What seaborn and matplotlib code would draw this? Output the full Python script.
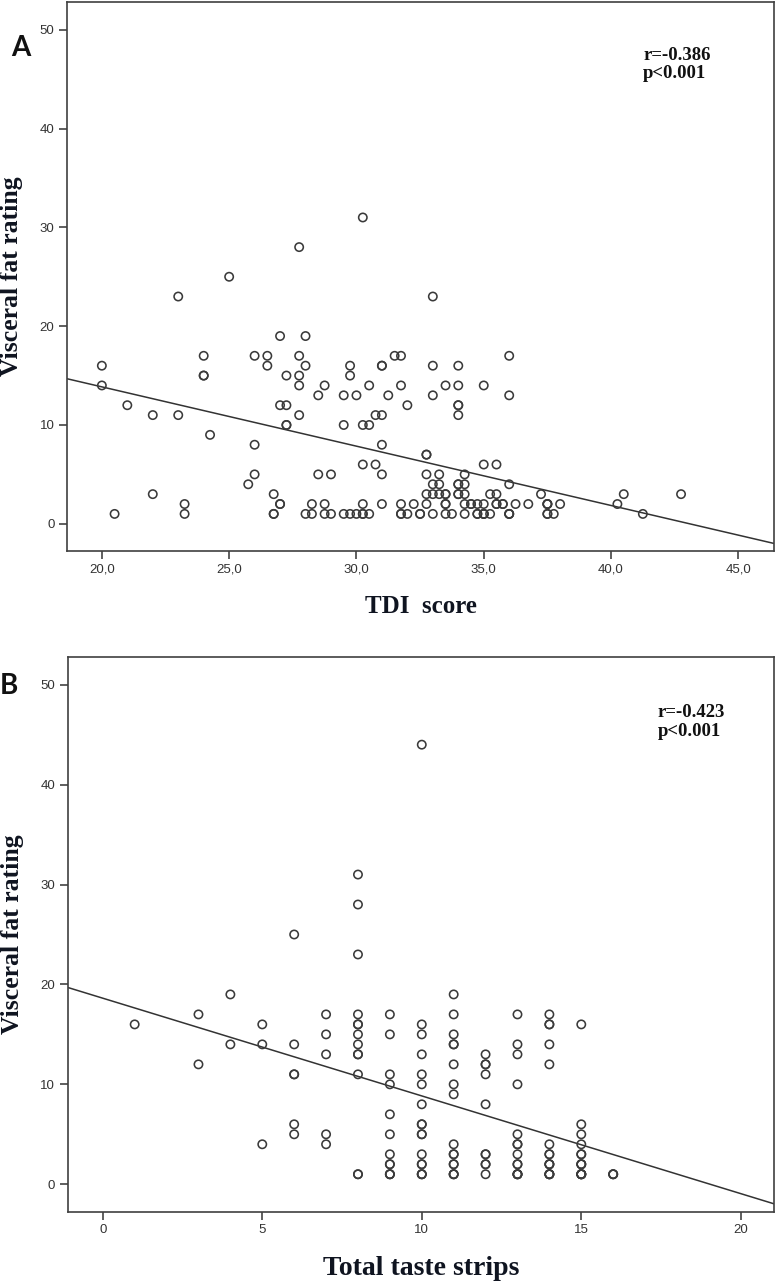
import matplotlib
matplotlib.use("Agg")
import matplotlib.pyplot as plt
import seaborn as sns
from matplotlib.ticker import FuncFormatter

# Panel A: TDI score vs visceral fat rating (one line per rating level)
tdi_score = [
    20.5, 23.25, 26.75, 26.75, 28.0, 28.25, 28.75, 29.0, 29.5, 29.75, 30.0,
    30.25, 30.25, 30.5, 31.75, 31.75, 32.0, 32.5, 32.5, 33.0, 33.5, 33.75,
    34.25, 34.75, 34.75, 35.0, 35.0, 35.0, 35.25, 36.0, 36.0, 36.0, 37.5,
    37.5, 37.75, 41.25,
    23.25, 27.0, 27.0, 28.25, 28.75, 30.25, 31.0, 31.75, 32.25, 32.75, 33.5,
    33.5, 34.25, 34.5, 34.5, 34.75, 35.0, 35.5, 35.5, 35.75, 35.75, 36.25,
    36.75, 37.5, 37.5, 37.5, 38.0, 40.25,
    22.0, 26.75, 32.75, 33.0, 33.25, 33.5, 33.5, 34.0, 34.0, 34.25, 35.25,
    35.5, 37.25, 40.5, 42.75,
    25.75, 33.0, 33.25, 34.0, 34.0, 34.25, 36.0,
    26.0, 28.5, 29.0, 31.0, 32.75, 33.25, 34.25,
    30.25, 30.75, 35.0, 35.5,
    32.75, 32.75,
    26.0, 31.0,
    24.25,
    27.25, 27.25, 29.5, 30.25, 30.5,
    22.0, 23.0, 27.75, 30.75, 31.0, 34.0,
    21.0, 27.0, 27.25, 32.0, 34.0, 34.0,
    28.5, 29.5, 30.0, 31.25, 33.0, 36.0,
    20.0, 27.75, 28.75, 30.5, 31.75, 33.5, 34.0, 35.0,
    24.0, 24.0, 27.25, 27.75, 29.75,
    20.0, 26.5, 28.0, 29.75, 31.0, 31.0, 33.0, 34.0,
    24.0, 26.0, 26.5, 27.75, 31.5, 31.75, 36.0,
    27.0, 28.0,
    23.0, 33.0,
    25.0,
    27.75,
    30.25,
]
visceral_a = [
    1, 1, 1, 1, 1, 1, 1, 1, 1, 1, 1,
    1, 1, 1, 1, 1, 1, 1, 1, 1, 1, 1,
    1, 1, 1, 1, 1, 1, 1, 1, 1, 1, 1,
    1, 1, 1,
    2, 2, 2, 2, 2, 2, 2, 2, 2, 2, 2,
    2, 2, 2, 2, 2, 2, 2, 2, 2, 2, 2,
    2, 2, 2, 2, 2, 2,
    3, 3, 3, 3, 3, 3, 3, 3, 3, 3, 3,
    3, 3, 3, 3,
    4, 4, 4, 4, 4, 4, 4,
    5, 5, 5, 5, 5, 5, 5,
    6, 6, 6, 6,
    7, 7,
    8, 8,
    9,
    10, 10, 10, 10, 10,
    11, 11, 11, 11, 11, 11,
    12, 12, 12, 12, 12, 12,
    13, 13, 13, 13, 13, 13,
    14, 14, 14, 14, 14, 14, 14, 14,
    15, 15, 15, 15, 15,
    16, 16, 16, 16, 16, 16, 16, 16,
    17, 17, 17, 17, 17, 17, 17,
    19, 19,
    23, 23,
    25,
    28,
    31,
]

# Panel B: total taste strips vs visceral fat rating (one line per strip score)
taste_strips = [
    1,
    3, 3,
    4, 4,
    5, 5, 5,
    6, 6, 6, 6, 6, 6,
    7, 7, 7, 7, 7,
    8, 8, 8, 8, 8, 8, 8, 8, 8, 8, 8, 8, 8,
    9, 9, 9, 9, 9, 9, 9, 9, 9, 9, 9, 9,
    10, 10, 10, 10, 10, 10, 10, 10, 10, 10, 10, 10, 10, 10, 10, 10, 10,
    11, 11, 11, 11, 11, 11, 11, 11, 11, 11, 11, 11, 11, 11, 11, 11,
    12, 12, 12, 12, 12, 12, 12, 12, 12, 12,
    13, 13, 13, 13, 13, 13, 13, 13, 13, 13, 13, 13, 13, 13,
    14, 14, 14, 14, 14, 14, 14, 14, 14, 14, 14, 14, 14, 14, 14,
    15, 15, 15, 15, 15, 15, 15, 15, 15, 15, 15, 15, 15, 15,
    16, 16, 16,
]
visceral_b = [
    16,
    17, 12,
    19, 14,
    16, 14, 4,
    25, 14, 11, 11, 6, 5,
    17, 15, 13, 5, 4,
    31, 28, 23, 17, 16, 16, 15, 14, 13, 13, 11, 1, 1,
    17, 15, 11, 10, 7, 5, 3, 2, 2, 1, 1, 1,
    44, 16, 15, 13, 11, 10, 8, 6, 6, 5, 5, 3, 2, 2, 1, 1, 1,
    19, 17, 15, 14, 14, 12, 10, 9, 4, 3, 3, 2, 2, 1, 1, 1,
    13, 12, 12, 11, 8, 3, 3, 2, 2, 1,
    17, 14, 13, 10, 5, 4, 4, 3, 2, 2, 1, 1, 1, 1,
    17, 16, 16, 14, 12, 4, 3, 3, 2, 2, 2, 1, 1, 1, 1,
    16, 6, 5, 4, 3, 3, 2, 2, 2, 1, 1, 1, 1, 1,
    1, 1, 1,
]

y_ticks = [0, 10, 20, 30, 40, 50]
tdi_ticks = [20, 25, 30, 35, 40, 45]
strip_ticks = [0, 5, 10, 15, 20]

stats_a = "r=-0.386\np<0.001"
stats_b = "r=-0.423\np<0.001"

INK = "#3a3a3a"
LABEL_INK = "#0f1420"

sns.set_theme(style="white")
plt.rcParams["font.family"] = ["Liberation Sans", "DejaVu Sans"]

fig = plt.figure(figsize=(7.77, 12.87), dpi=100)
ax_a = fig.add_axes([0.0862, 0.5719, 0.9099, 0.4265])
ax_b = fig.add_axes([0.0871, 0.0585, 0.9094, 0.4312])


def draw_panel(ax, x, y, xlim, xticks, xfmt, xlabel, xlabel_size, xpad,
               stats, stats_xy, letter, letter_xy):
    ax.set_xlim(*xlim)
    ax.set_ylim(-2.75, 52.8)

    sns.scatterplot(x=x, y=y, ax=ax, marker="o", s=36, facecolors="none",
                    edgecolor=INK, linewidth=1.15, zorder=3)
    sns.regplot(x=x, y=y, ax=ax, scatter=False, ci=None, truncate=False,
                line_kws=dict(color="#333333", lw=1.1))

    ax.set_xlim(*xlim)
    ax.set_ylim(-2.75, 52.8)
    ax.set_xticks(xticks)
    ax.set_yticks(y_ticks)
    ax.xaxis.set_major_formatter(FuncFormatter(xfmt))
    ax.tick_params(axis="both", which="major", direction="out", length=6,
                   width=1.1, color="#333333", labelsize=9.5,
                   labelcolor="#333333", pad=3, bottom=True, left=True)

    for side in ax.spines.values():
        side.set_visible(True)
        side.set_color("#404040")
        side.set_linewidth(1.2)

    serif = ["Liberation Serif", "DejaVu Serif"]
    ax.set_xlabel(xlabel, labelpad=xpad, family=serif, fontweight="bold",
                  fontsize=xlabel_size, color=LABEL_INK)
    ax.set_ylabel("Visceral fat rating", labelpad=12, family=serif,
                  fontweight="bold", fontsize=18.5, color=LABEL_INK)

    ax.text(stats_xy[0], stats_xy[1], stats, transform=ax.transAxes,
            ha="left", va="top", fontsize=13.5, fontweight="bold",
            family=serif, color="#111111", linespacing=1.1)
    fig.text(letter_xy[0], letter_xy[1], letter, ha="center", va="center",
             fontsize=20, fontweight="bold", family=["Lato", "DejaVu Sans"],
             color="#111111")


draw_panel(ax_a, tdi_score, visceral_a, (18.63, 46.4), tdi_ticks,
           lambda v, pos: f"{v:.1f}".replace(".", ","),
           "TDI  score", 18, 14, stats_a, (0.815, 0.918), "A", (0.027, 0.963))

draw_panel(ax_b, taste_strips, visceral_b, (-1.1, 21.05), strip_ticks,
           lambda v, pos: f"{v:.0f}",
           "Total taste strips", 20, 14, stats_b, (0.835, 0.914), "B", (0.011, 0.467))

fig.savefig("out.png", dpi=100)
